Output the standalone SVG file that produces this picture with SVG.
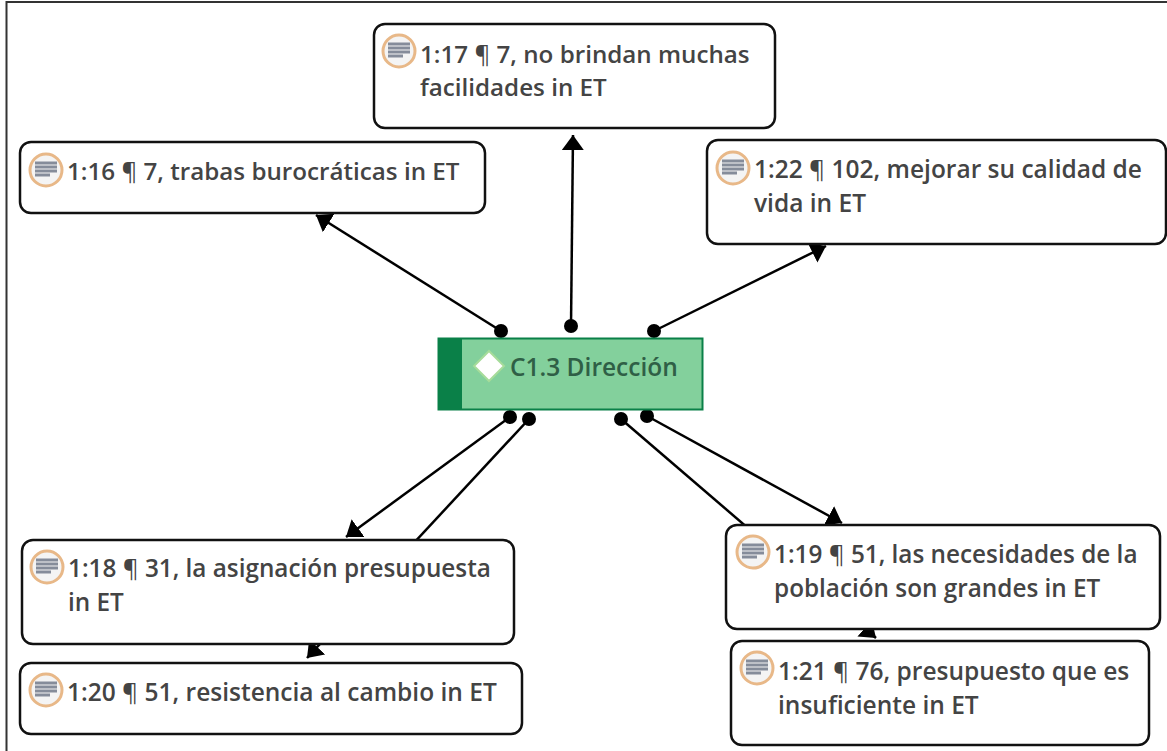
<svg xmlns="http://www.w3.org/2000/svg" width="1167" height="751" viewBox="0 0 1167 751">
<style>
.box{fill:#fff;stroke:#111;stroke-width:2.5}
.t{font-family:"Open Sans","Noto Sans","Liberation Sans",sans-serif;font-weight:600;font-size:24.500px;fill:#444}
#n17 .t,#n16 .t{font-size:24.200px}
#n18 .t,#n19 .t{font-size:24.300px}
.p{font-weight:400}
.c{stroke:#000;stroke-width:2.5;fill:none;marker-end:url(#arr)}
.d{fill:#000}
</style>
<defs>
<marker id="arr" markerUnits="userSpaceOnUse" markerWidth="17" markerHeight="24" refX="15" refY="11" orient="auto"><path d="M0 0L15 11L0 22Z" fill="#000"/></marker>
<g id="doc"><circle r="16" fill="#f4f4f4" stroke="#e8b888" stroke-width="3"/><path d="M-11-7H11M-11-3H11M-11 1H11M-11 5H4" stroke="#858c9a" stroke-width="2.800" fill="none"/></g>
</defs>
<path d="M6.500 751V2H1167" fill="none" stroke="#333" stroke-width="2"/>
<g id="connectors">
<path class="c" d="M501 331L316 215"/><circle class="d" cx="501" cy="331" r="7"/>
<path class="c" d="M571 326L573 135"/><circle class="d" cx="571" cy="326" r="7"/>
<path class="c" d="M654 331L826 246"/><circle class="d" cx="654" cy="331" r="7"/>
<path class="c" d="M510 417L346 537"/><circle class="d" cx="510" cy="417" r="7"/>
<path class="c" d="M529 419L307 658"/><circle class="d" cx="529" cy="419" r="7"/>
<path class="c" d="M621 419L876 638"/><circle class="d" cx="621" cy="419" r="7"/>
<path class="c" d="M647 416L842 523"/><circle class="d" cx="647" cy="416" r="7"/>
</g>
<g id="n17"><rect class="box" x="374" y="24" width="401" height="104" rx="11"/><use href="#doc" x="399" y="51"/><text class="t" x="420" y="63">1:17 <tspan class="p">¶</tspan> 7, no brindan muchas</text><text class="t" x="420" y="96">facilidades in ET</text></g>
<g id="n16"><rect class="box" x="20" y="142" width="465" height="71" rx="11"/><use href="#doc" x="46" y="170"/><text class="t" x="67" y="180">1:16 <tspan class="p">¶</tspan> 7, trabas burocráticas in ET</text></g>
<g id="n22"><rect class="box" x="707" y="140" width="459" height="104" rx="11"/><use href="#doc" x="733" y="168"/><text class="t" x="754" y="178">1:22 <tspan class="p">¶</tspan> 102, mejorar su calidad de</text><text class="t" x="754" y="212">vida in ET</text></g>
<g id="n0"><rect x="438.500" y="338.500" width="264" height="71" fill="#83d09c" stroke="#0a8048" stroke-width="2"/><rect x="438" y="338" width="24" height="72" fill="#0a8048"/><path d="M489 351L504 366L489 381L474 366Z" fill="#fff" stroke="#a6dc9a" stroke-width="2"/><text class="t" x="510" y="376" style="fill:#2f5f46">C1.3 Dirección</text></g>
<g id="n18"><rect class="box" x="22" y="540" width="492" height="104" rx="11"/><use href="#doc" x="47" y="567"/><text class="t" x="68" y="577">1:18 <tspan class="p">¶</tspan> 31, la asignación presupuesta</text><text class="t" x="68" y="611">in ET</text></g>
<g id="n20"><rect class="box" x="20" y="663" width="502" height="71" rx="11"/><use href="#doc" x="46" y="690"/><text class="t" x="67" y="701">1:20 <tspan class="p">¶</tspan> 51, resistencia al cambio in ET</text></g>
<g id="n19"><rect class="box" x="726" y="525" width="434" height="104" rx="11"/><use href="#doc" x="753" y="552"/><text class="t" x="774" y="563">1:19 <tspan class="p">¶</tspan> 51, las necesidades de la</text><text class="t" x="774" y="597">población son grandes in ET</text></g>
<g id="n21"><rect class="box" x="731" y="641" width="418" height="104" rx="11"/><use href="#doc" x="757" y="668"/><text class="t" x="778" y="680">1:21 <tspan class="p">¶</tspan> 76, presupuesto que es</text><text class="t" x="778" y="714">insuficiente in ET</text></g>
</svg>
